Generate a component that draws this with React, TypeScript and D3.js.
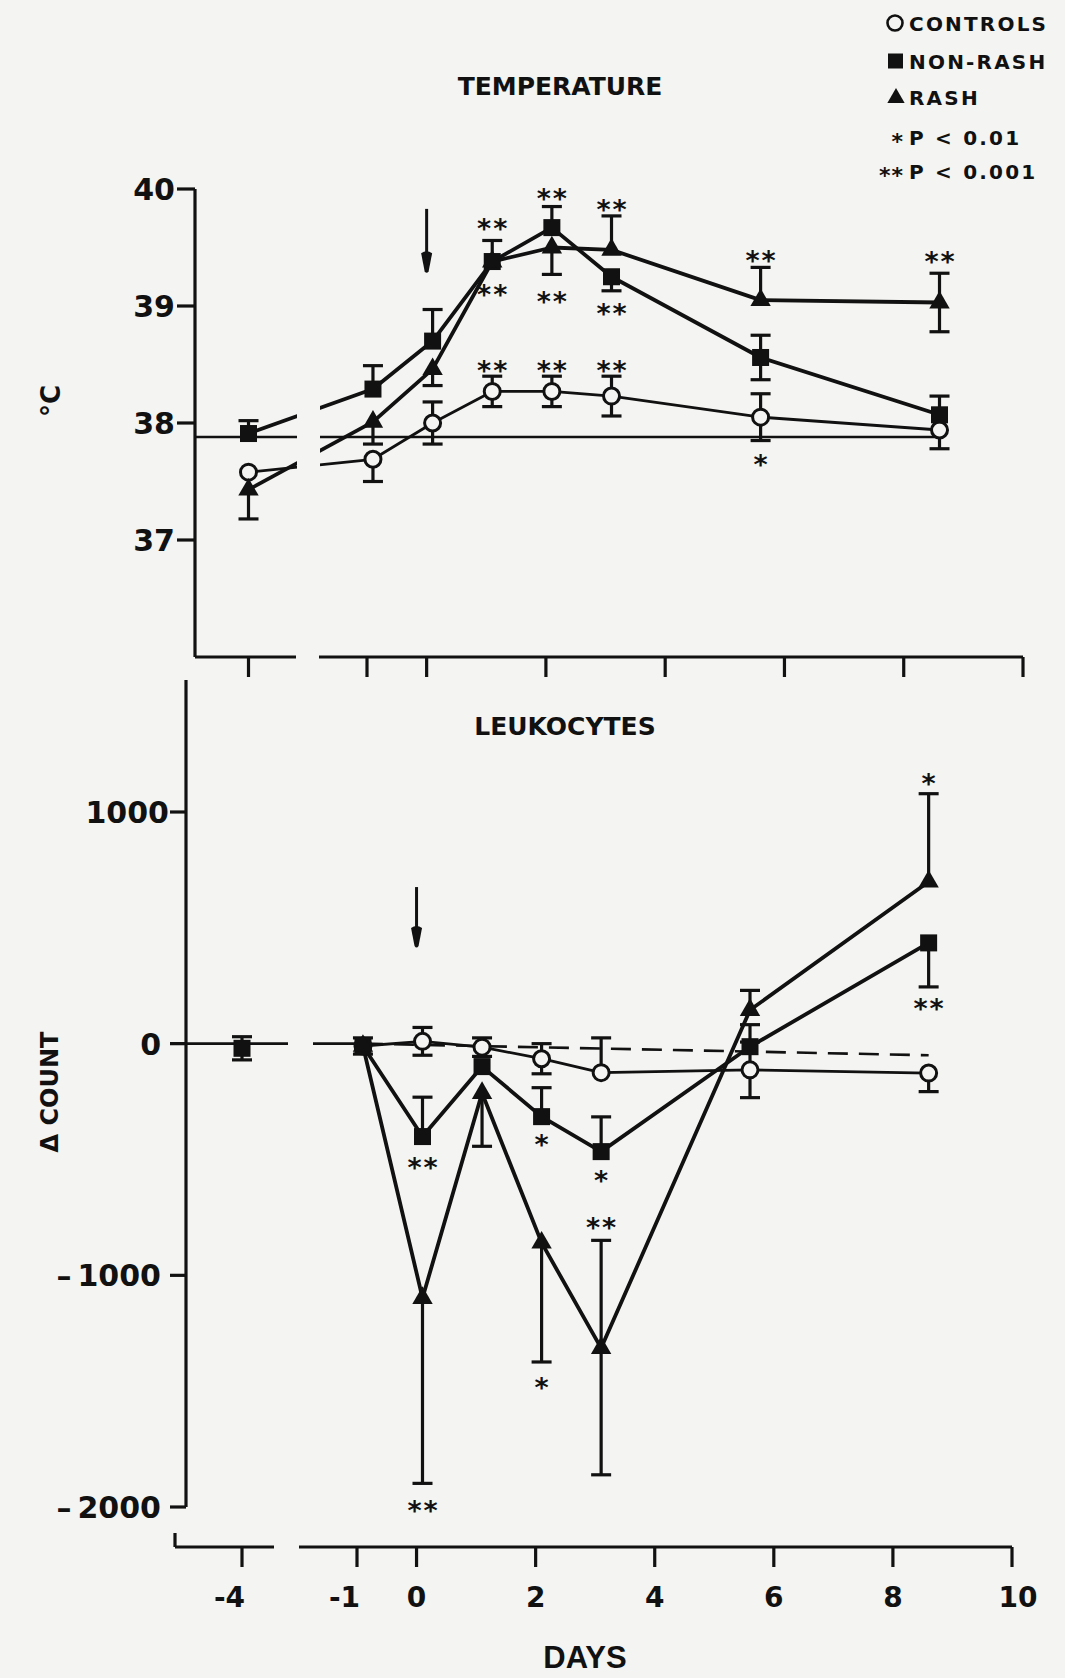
import * as d3 from "d3";

const W = 1065;
const H = 1678;
const INK = "#111";
const PAPER = "#f4f4f2";

// sampling days; the first one sits on the broken part of the time axis
const sampleDays = [-4, -0.9, 0.1, 1.1, 2.1, 3.1, 5.6, 8.6];
const dayTicks = [-1, 0, 2, 4, 6, 8, 10];
const preTick = -4;

// TEMPERATURE, °C  (error bars: upper and lower arm, 0 = not drawn)
const tempTicks = [37, 38, 39, 40];
const tempBaseline = 37.88;
const tempControls = [37.58, 37.69, 38.0, 38.27, 38.27, 38.23, 38.05, 37.94];
const tempControlsUp = [0, 0, 0.18, 0.13, 0.13, 0.17, 0.2, 0];
const tempControlsDown = [0, 0.19, 0.18, 0.13, 0.13, 0.17, 0.2, 0.16];
const tempNonRash = [37.91, 38.29, 38.7, 39.38, 39.67, 39.25, 38.56, 38.07];
const tempNonRashUp = [0.11, 0.2, 0.27, 0.18, 0.18, 0, 0.19, 0.16];
const tempNonRashDown = [0, 0, 0, 0, 0, 0.12, 0.19, 0];
const tempRash = [37.43, 38.01, 38.46, 39.38, 39.5, 39.48, 39.05, 39.03];
const tempRashUp = [0, 0, 0, 0, 0, 0.29, 0.28, 0.25];
const tempRashDown = [0.25, 0.19, 0.14, 0, 0.23, 0, 0, 0.25];
const tempStarDays = [1.1, 1.1, 2.1, 2.1, 3.1, 3.1, 1.1, 2.1, 3.1, 5.6, 5.6, 8.6];
const tempStarValues = [39.71, 39.15, 39.97, 39.09, 39.87, 38.98, 38.5, 38.5, 38.5, 39.44, 37.69, 39.43];
const tempStarText = ["**", "**", "**", "**", "**", "**", "**", "**", "**", "**", "*", "**"];
const tempArrow = [39.83, 39.28]; // at day 0

// LEUKOCYTES, change in count
const wbcTicks = [1000, 0, -1000, -2000];
const wbcControls = [null, -10, 10, -15, -65, -125, -113, -127];
const wbcControlsUp = [0, 0, 60, 40, 65, 150, 120, 0];
const wbcControlsDown = [0, 0, 60, 40, 65, 0, 120, 80];
const wbcNonRash = [-20, -10, -401, -99, -315, -466, -13, 435];
const wbcNonRashUp = [50, 35, 170, 0, 125, 150, 95, 0];
const wbcNonRashDown = [50, 35, 0, 0, 0, 0, 0, 190];
const wbcRash = [null, -10, -1098, -213, -859, -1314, 145, 699];
const wbcRashUp = [0, 0, 0, 0, 0, 465, 85, 380];
const wbcRashDown = [0, 0, 800, 230, 515, 547, 0, 0];
const wbcRefDays = [-0.9, 8.6];
const wbcRef = [0, -50];
const wbcStarDays = [0.1, 2.1, 0.1, 2.1, 3.1, 3.1, 8.6, 8.6];
const wbcStarValues = [-509, -411, -1991, -1460, -770, -567, 1147, 177];
const wbcStarText = ["**", "*", "**", "*", "**", "*", "*", "**"];
const wbcArrow = [676, 413]; // at day 0

const legendItems = [
  { kind: "circle", label: "CONTROLS" },
  { kind: "square", label: "NON-RASH" },
  { kind: "triangle", label: "RASH" },
  { kind: "*", label: "P < 0.01" },
  { kind: "**", label: "P < 0.001" },
];
const legendRows = [23, 61, 97, 137, 171];

const triPath = d3.symbol(d3.symbolTriangle, 180)() as string;

function Marker({ kind, x, y }: { kind: string; x: number; y: number }) {
  if (kind === "circle")
    return <circle cx={x} cy={y} r={8} fill={PAPER} stroke={INK} strokeWidth={3} />;
  if (kind === "square") return <rect x={x - 8.5} y={y - 8.5} width={17} height={17} fill={INK} />;
  return <path d={triPath} transform={`translate(${x},${y})`} fill={INK} />;
}

function ErrBar({ x, y, yUp, yDown }: { x: number; y: number; yUp: number | null; yDown: number | null }) {
  const cap = 10;
  return (
    <g stroke={INK} strokeWidth={3.2}>
      {yUp != null && (
        <>
          <line x1={x} x2={x} y1={y} y2={yUp} />
          <line x1={x - cap} x2={x + cap} y1={yUp} y2={yUp} />
        </>
      )}
      {yDown != null && (
        <>
          <line x1={x} x2={x} y1={y} y2={yDown} />
          <line x1={x - cap} x2={x + cap} y1={yDown} y2={yDown} />
        </>
      )}
    </g>
  );
}

function Stars({ x, y, text, size = 27 }: { x: number; y: number; text: string; size?: number }) {
  return (
    <text x={x + 1} y={y + size * 0.56} textAnchor="middle" fontSize={size} letterSpacing={2} fill={INK}>
      {text}
    </text>
  );
}

function Arrow({ x, y0, y1 }: { x: number; y0: number; y1: number }) {
  return (
    <g>
      <line x1={x} x2={x} y1={y0} y2={y1 - 14} stroke={INK} strokeWidth={3} />
      <path
        d={`M${x - 5.5},${y1 - 20} Q${x},${y1 - 24} ${x + 5.5},${y1 - 20} L${x + 2},${y1 - 2} Q${x},${y1 + 1} ${x - 2},${y1 - 2} Z`}
        fill={INK}
      />
    </g>
  );
}

type Series = { kind: string; vals: (number | null)[]; up: number[]; down: number[]; w: number };
type Lin = d3.ScaleLinear<number, number>;

const fmtTick = (t: number) => (t < 0 ? `\u2013\u2009${Math.abs(t)}` : `${t}`);

export default function App() {
  const xT = d3.scaleLinear().domain([-1, 10]).range([367, 1023]);
  const xTpre = d3.scaleLinear().domain([-5, -3]).range([189, 308]);
  const yT = d3.scaleLinear().domain([36, 40]).range([657, 189]);

  const xL = d3.scaleLinear().domain([-1, 10]).range([357, 1012]);
  const xLpre = d3.scaleLinear().domain([-5, -3]).range([182, 302]);
  const yL = d3.scaleLinear().domain([-2000, 1000]).range([1507, 812]);

  const tempSeries: Series[] = [
    { kind: "circle", vals: tempControls, up: tempControlsUp, down: tempControlsDown, w: 2.8 },
    { kind: "square", vals: tempNonRash, up: tempNonRashUp, down: tempNonRashDown, w: 3.8 },
    { kind: "triangle", vals: tempRash, up: tempRashUp, down: tempRashDown, w: 3.8 },
  ];
  const wbcSeries: Series[] = [
    { kind: "circle", vals: wbcControls, up: wbcControlsUp, down: wbcControlsDown, w: 2.8 },
    { kind: "square", vals: wbcNonRash, up: wbcNonRashUp, down: wbcNonRashDown, w: 3.8 },
    { kind: "triangle", vals: wbcRash, up: wbcRashUp, down: wbcRashDown, w: 3.8 },
  ];

  const line = d3.line<[number, number]>();

  const pts = (s: Series, xs: Lin, xp: Lin, ys: Lin) =>
    s.vals.map((v, i) => {
      if (v == null) return null;
      const d = sampleDays[i];
      return {
        x: d < -2 ? xp(d) : xs(d),
        y: ys(v),
        yUp: s.up[i] > 0 ? ys(v + s.up[i]) : null,
        yDown: s.down[i] > 0 ? ys(v - s.down[i]) : null,
      };
    });

  const drawPanel = (series: Series[], xs: Lin, xp: Lin, ys: Lin, joinPre: boolean, clipId: string) => {
    const all = series.map((s) => ({ s, p: pts(s, xs, xp, ys) }));
    return (
      <g>
        {all.map(({ s, p }, k) => {
          const main = p.slice(1).filter((q) => q) as { x: number; y: number }[];
          return (
            <g key={"l" + k} fill="none" stroke={INK} strokeWidth={s.w} strokeLinejoin="round">
              <path d={line(main.map((q) => [q.x, q.y]))!} />
              {joinPre && p[0] && p[1] && (
                <path clipPath={`url(#${clipId})`} d={line([[p[0].x, p[0].y], [p[1].x, p[1].y]])!} />
              )}
            </g>
          );
        })}
        {all.map(({ p }, k) => (
          <g key={"e" + k}>
            {p.map((q, i) => q && <ErrBar key={i} x={q.x} y={q.y} yUp={q.yUp} yDown={q.yDown} />)}
          </g>
        ))}
        {all.map(({ s, p }, k) => (
          <g key={"m" + k}>{p.map((q, i) => q && <Marker key={i} kind={s.kind} x={q.x} y={q.y} />)}</g>
        ))}
      </g>
    );
  };

  const tAxisX = 195;
  const tAxisY = yT(36);
  const lAxisX = 186;
  const lAxisY = 1547;

  return (
    <svg
      width={W}
      height={H}
      style={{ position: "absolute", left: 0, top: 0 }}
      fontFamily="DejaVu Sans"
      fontWeight="bold"
    >
      <defs>
        <clipPath id="gapT">
          <rect x={0} y={0} width={297} height={H} />
          <rect x={320} y={0} width={W} height={H} />
        </clipPath>
        <clipPath id="gapL">
          <rect x={0} y={0} width={288} height={H} />
          <rect x={313} y={0} width={W} height={H} />
        </clipPath>
      </defs>
      <rect width={W} height={H} fill={PAPER} />

      {/* legend */}
      {legendItems.map((it, i) => {
        const y = legendRows[i];
        return (
          <g key={it.label}>
            {it.kind === "circle" && <circle cx={895} cy={y} r={7.5} fill="none" stroke={INK} strokeWidth={2.6} />}
            {it.kind === "square" && <rect x={888} y={y - 7.5} width={15} height={15} fill={INK} />}
            {it.kind === "triangle" && (
              <path d={d3.symbol(d3.symbolTriangle, 130)()!} transform={`translate(896,${y + 1})`} fill={INK} />
            )}
            {(it.kind === "*" || it.kind === "**") && (
              <text x={904} y={y + 12} textAnchor="end" fontSize={22} letterSpacing={1} fill={INK}>
                {it.kind}
              </text>
            )}
            <text x={909} y={y + 7.5} fontSize={20} letterSpacing={2.2} fill={INK}>
              {it.label}
            </text>
          </g>
        );
      })}

      {/* ---------- TEMPERATURE ---------- */}
      <text x={560} y={95} textAnchor="middle" fontSize={25} fill={INK}>
        TEMPERATURE
      </text>
      <text transform={`translate(60,401) rotate(-90)`} textAnchor="middle" fontSize={26} fill={INK}>
        °C
      </text>
      <g stroke={INK} strokeWidth={3.2} fill="none">
        <line x1={tAxisX} x2={tAxisX} y1={yT(40)} y2={tAxisY} />
        {tempTicks.map((t) => (
          <line key={t} x1={tAxisX - 18} x2={tAxisX} y1={yT(t)} y2={yT(t)} />
        ))}
        <line x1={tAxisX} x2={296} y1={tAxisY} y2={tAxisY} />
        <line x1={319} x2={xT(10)} y1={tAxisY} y2={tAxisY} />
        <line x1={xTpre(preTick)} x2={xTpre(preTick)} y1={tAxisY} y2={tAxisY + 20} />
        {dayTicks.map((d) => (
          <line key={d} x1={xT(d)} x2={xT(d)} y1={tAxisY} y2={tAxisY + 20} />
        ))}
      </g>
      {tempTicks.map((t) => (
        <text key={t} x={175} y={yT(t) + 11} textAnchor="end" fontSize={30} fill={INK}>
          {t}
        </text>
      ))}
      <line
        clipPath="url(#gapT)"
        x1={tAxisX}
        x2={xT(8.6)}
        y1={yT(tempBaseline)}
        y2={yT(tempBaseline)}
        stroke={INK}
        strokeWidth={2.4}
      />
      <Arrow x={xT(0)} y0={yT(tempArrow[0])} y1={yT(tempArrow[1])} />
      {drawPanel(tempSeries, xT, xTpre, yT, true, "gapT")}
      {tempStarDays.map((d, i) => (
        <Stars key={i} x={xT(d)} y={yT(tempStarValues[i])} text={tempStarText[i]} />
      ))}

      {/* ---------- LEUKOCYTES ---------- */}
      <text x={565} y={735} textAnchor="middle" fontSize={25} fill={INK}>
        LEUKOCYTES
      </text>
      <text transform={`translate(58,1092) rotate(-90)`} textAnchor="middle" fontSize={24} fill={INK}>
        Δ COUNT
      </text>
      <g stroke={INK} strokeWidth={3.2} fill="none">
        <line x1={lAxisX} x2={lAxisX} y1={680} y2={yL(-2000)} />
        {wbcTicks.map((t) => (
          <line key={t} x1={lAxisX - 16} x2={lAxisX} y1={yL(t)} y2={yL(t)} />
        ))}
        <line x1={175} x2={175} y1={lAxisY - 14} y2={lAxisY} />
        <line x1={175} x2={274} y1={lAxisY} y2={lAxisY} />
        <line x1={299} x2={xL(10)} y1={lAxisY} y2={lAxisY} />
        <line x1={xLpre(preTick)} x2={xLpre(preTick)} y1={lAxisY} y2={lAxisY + 20} />
        {dayTicks.map((d) => (
          <line key={d} x1={xL(d)} x2={xL(d)} y1={lAxisY} y2={lAxisY + 20} />
        ))}
      </g>
      {wbcTicks.map((t) => (
        <text key={t} x={t > 0 ? 169 : 161} y={yL(t) + 11} textAnchor="end" fontSize={30} fill={INK}>
          {fmtTick(t)}
        </text>
      ))}
      {[preTick, ...dayTicks].map((d) => {
        const x = d < -2 ? xLpre(d) : xL(d);
        return (
          <text
            key={d}
            x={d < 0 ? x + 3 : d >= 10 ? x + 6 : x}
            y={1607}
            textAnchor={d < 0 ? "end" : "middle"}
            fontSize={28}
            fill={INK}
          >
            {d}
          </text>
        );
      })}
      <text
        x={585}
        y={1668}
        textAnchor="middle"
        fontSize={31}
        fontFamily="Liberation Sans Narrow, Liberation Sans"
        fill={INK}
      >
        DAYS
      </text>
      <line
        clipPath="url(#gapL)"
        x1={lAxisX - 16}
        x2={xL(wbcRefDays[0])}
        y1={yL(0)}
        y2={yL(0)}
        stroke={INK}
        strokeWidth={2.6}
      />
      <line
        x1={xL(wbcRefDays[0])}
        x2={xL(wbcRefDays[1])}
        y1={yL(wbcRef[0])}
        y2={yL(wbcRef[1])}
        stroke={INK}
        strokeWidth={2.6}
        strokeDasharray="20 11"
      />
      <Arrow x={xL(0)} y0={yL(wbcArrow[0])} y1={yL(wbcArrow[1])} />
      {drawPanel(wbcSeries, xL, xLpre, yL, false, "gapL")}
      {wbcStarDays.map((d, i) => (
        <Stars key={i} x={xL(d)} y={yL(wbcStarValues[i])} text={wbcStarText[i]} />
      ))}
    </svg>
  );
}
